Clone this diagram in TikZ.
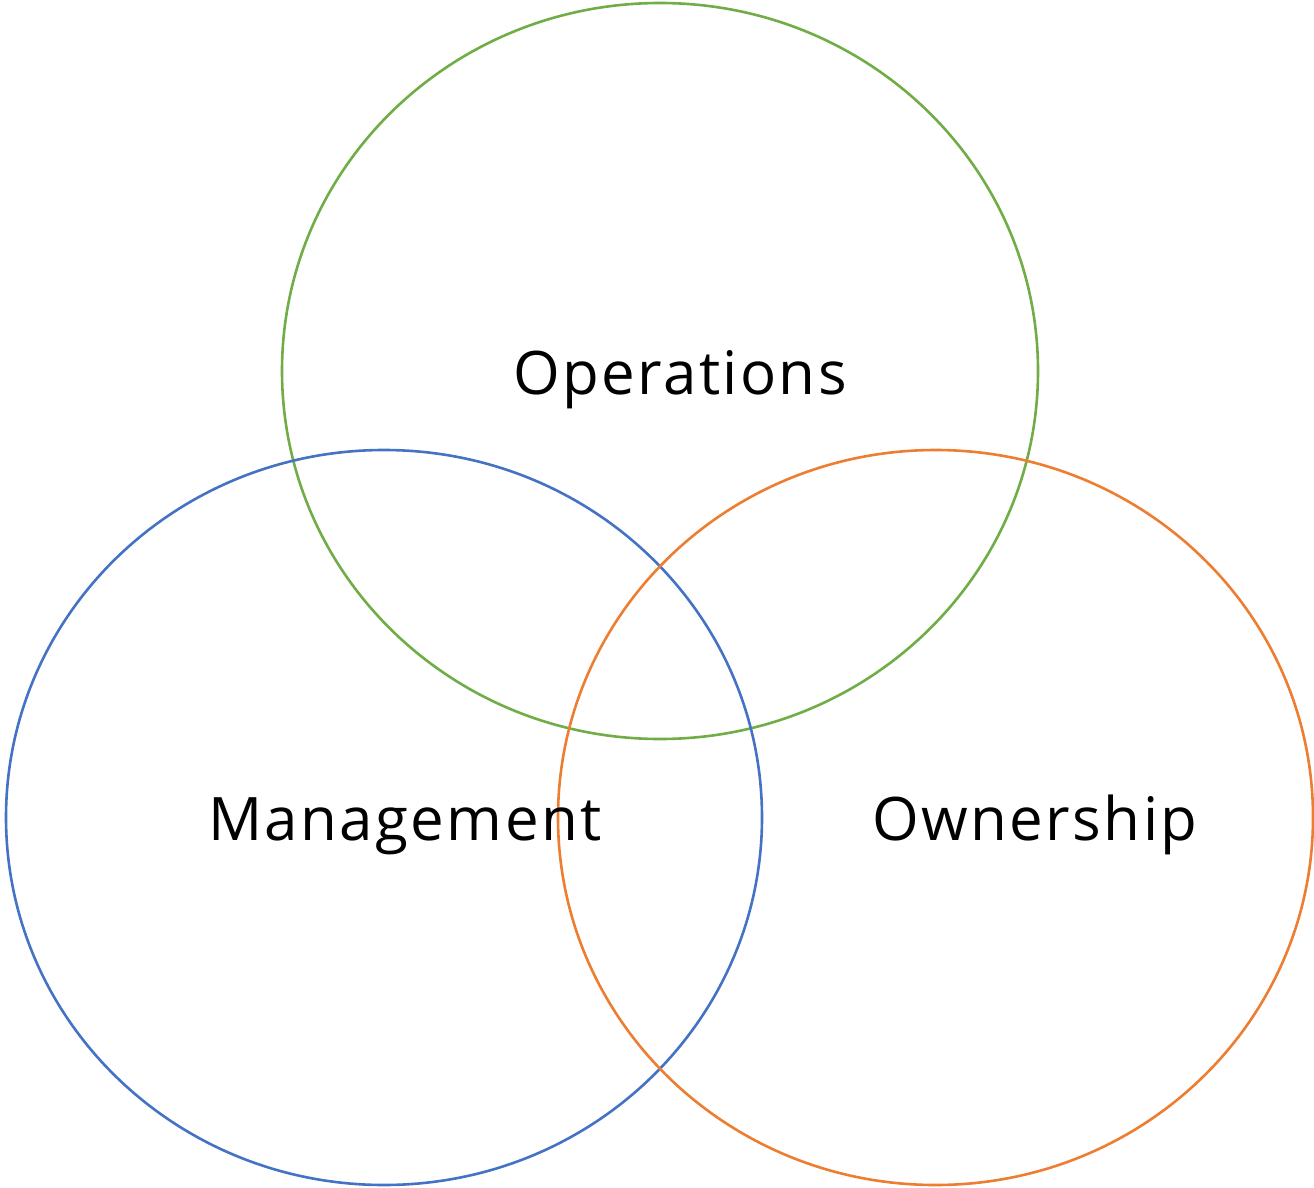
\documentclass[tikz,border=0pt]{standalone}
\usepackage{fontspec}
\setmainfont{Open Sans}[LetterSpace=4]
\definecolor{opsgreen}{HTML}{70AD47}
\definecolor{mgmtblue}{HTML}{4472C4}
\definecolor{ownorange}{HTML}{ED7D31}
\begin{document}
\begin{tikzpicture}[x=1pt,y=-1pt,
  ring/.style={line width=2.6pt},
  label/.style={font=\fontsize{60}{68}\selectfont, inner sep=0pt, anchor=base}]
\useasboundingbox (0,0) rectangle (1314,1188);
% three overlapping sets
\draw[ring, opsgreen] (660,371) ellipse [x radius=378, y radius=368];
\draw[ring, mgmtblue] (384,817.5) ellipse [x radius=378, y radius=367.5];
\draw[ring, ownorange] (935.5,817.5) ellipse [x radius=377.5, y radius=367.5];
% set names
\node[label] (ops) at (680,394) {Operations};
\node[label] (mgmt) at (405,840) {Management};
\node[label] (own) at (1035,840) {Ownership};
\end{tikzpicture}
\end{document}
